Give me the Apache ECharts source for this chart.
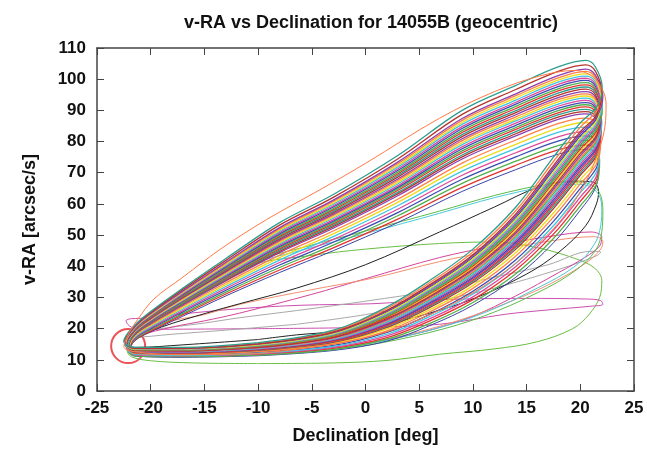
<!DOCTYPE html>
<html>
<head>
<meta charset="utf-8">
<script src="https://cdn.jsdelivr.net/npm/echarts@6/dist/echarts.min.js"></script>
<style>
  html, body { margin: 0; padding: 0; background: #fff; }
  #chart { width: 647px; height: 450px; }
</style>
</head>
<body>
<div id="chart"></div>
<script>
// tick labels
var decTicks = [-25, -20, -15, -10, -5, 0, 5, 10, 15, 20, 25];
var vraTicks = [0, 10, 20, 30, 40, 50, 60, 70, 80, 90, 100, 110];

// declination stations used by the main bundle of loops
var upDec  = [-21.5, -20, -17, -13, -8, -3, 3, 9, 14, 18, 20.5, 21.4];
var lowDec = [21.5, 20, 17.5, 14, 10, 6, 2, -3, -10, -17, -21.5];

// v-RA on the rising (upper) branch of each loop, read at upDec
var upperV = [
  [16.3,19.3,24.5,31.1,38.8,45.9,55.1,65.3,72.4,77.4,78.9,77.9],
  [16.5,19.7,24.9,31.7,39.6,46.8,56.2,66.6,73.7,78.8,80.4,79.3],
  [16.8,20.0,25.4,32.3,40.4,47.7,57.2,67.9,75.1,80.2,81.8,80.6],
  [17.0,20.3,25.8,32.9,41.2,48.6,58.3,69.2,76.4,81.6,83.2,82.0],
  [17.3,20.6,26.3,33.5,42.0,49.5,59.4,70.5,77.8,83.0,84.6,83.4],
  [17.5,21.0,26.7,34.1,42.8,50.4,60.5,71.8,79.1,84.4,86.1,84.8],
  [17.8,21.3,27.2,34.7,43.6,51.3,61.5,73.1,80.5,85.8,87.5,86.1],
  [18.0,21.6,27.6,35.3,44.4,52.2,62.6,74.4,81.8,87.2,88.9,87.5],
  [18.1,21.8,27.9,35.6,44.8,52.7,63.2,75.1,82.5,87.9,89.6,88.2],
  [18.3,21.9,28.1,35.9,45.2,53.1,63.7,75.7,83.2,88.6,90.3,88.9],
  [18.4,22.1,28.3,36.2,45.6,53.6,64.3,76.4,83.9,89.3,91.1,89.6],
  [18.5,22.3,28.5,36.5,46.0,54.0,64.8,77.0,84.5,90.0,91.8,90.3],
  [18.6,22.4,28.8,36.8,46.4,54.5,65.3,77.7,85.2,90.7,92.5,91.0],
  [18.8,22.6,29.0,37.1,46.8,54.9,65.8,78.3,85.9,91.4,93.2,91.6],
  [18.9,22.8,29.2,37.4,47.2,55.4,66.4,79.0,86.6,92.1,93.9,92.3],
  [19.0,22.9,29.4,37.7,47.6,55.8,66.9,79.6,87.2,92.8,94.6,93.0],
  [19.1,23.1,29.7,38.0,48.0,56.3,67.5,80.3,87.9,93.5,95.3,93.7],
  [19.3,23.2,29.9,38.3,48.4,56.7,68.0,80.9,88.6,94.2,96.0,94.4],
  [19.4,23.4,30.1,38.6,48.8,57.2,68.6,81.6,89.3,94.9,96.8,95.1],
  [19.5,23.6,30.3,38.9,49.2,57.6,69.1,82.2,89.9,95.6,97.5,95.8],
  [19.6,23.7,30.6,39.2,49.6,58.1,69.6,82.9,90.6,96.3,98.2,96.5],
  [19.8,23.9,30.8,39.5,50.0,58.5,70.1,83.5,91.3,97.0,98.9,97.1],
  [19.9,24.1,31.0,39.8,50.4,59.0,70.7,84.2,92.0,97.7,99.6,97.8],
  [20.0,24.2,31.2,40.1,50.8,59.4,71.2,84.8,92.6,98.4,100.3,98.5],
  [20.1,24.4,31.5,40.4,51.2,59.9,71.8,85.5,93.3,99.1,101.0,99.2],
  [20.3,24.5,31.7,40.7,51.6,60.3,72.3,86.1,94.0,99.8,101.7,99.9],
  [20.4,24.7,31.9,41.0,52.0,60.8,72.9,86.8,94.7,100.5,102.5,100.6],
  [20.5,24.9,32.1,41.3,52.4,61.2,73.4,87.4,95.3,101.2,103.2,101.3],
  [20.8,25.2,32.6,41.9,53.2,62.1,74.4,88.7,96.7,102.6,104.6,102.6],
  [21.0,25.5,33.0,42.5,54.0,63.0,75.5,90.0,98.0,104.0,106.0,104.0]
];

// v-RA on the returning (lower) branch, read at lowDec
var lowerV = [
  [66.3,59.4,48.9,37.6,28.4,21.7,16.6,13.3,11.5,11.0,11.3],
  [67.6,60.8,50.3,38.8,29.3,22.5,17.1,13.7,11.7,11.1,11.5],
  [68.9,62.2,51.6,39.9,30.2,23.2,17.7,14.0,11.9,11.3,11.6],
  [70.2,63.6,53.0,41.0,31.1,23.9,18.2,14.3,12.1,11.4,11.8],
  [71.5,65.0,54.4,42.1,32.0,24.6,18.8,14.6,12.4,11.6,11.9],
  [72.8,66.4,55.8,43.3,32.9,25.4,19.3,15.0,12.6,11.8,12.1],
  [74.1,67.8,57.1,44.4,33.8,26.1,19.9,15.3,12.8,11.9,12.2],
  [75.4,69.2,58.5,45.5,34.7,26.8,20.4,15.6,13.0,12.1,12.3],
  [76.1,69.9,59.2,46.1,35.2,27.2,20.7,15.8,13.1,12.2,12.4],
  [76.7,70.6,59.9,46.6,35.6,27.5,21.0,15.9,13.2,12.2,12.5],
  [77.4,71.3,60.6,47.2,36.1,27.9,21.3,16.1,13.3,12.3,12.6],
  [78.0,72.0,61.3,47.8,36.5,28.3,21.5,16.3,13.4,12.4,12.6],
  [78.7,72.7,62.0,48.4,37.0,28.7,21.8,16.5,13.5,12.5,12.7],
  [79.3,73.4,62.6,48.9,37.4,29.0,22.1,16.6,13.6,12.6,12.7],
  [80.0,74.1,63.3,49.5,37.9,29.4,22.4,16.8,13.7,12.7,12.8],
  [80.6,74.8,64.0,50.0,38.3,29.7,22.6,16.9,13.8,12.7,12.9],
  [81.3,75.5,64.7,50.6,38.8,30.1,22.9,17.1,13.9,12.8,13.0],
  [81.9,76.2,65.4,51.1,39.2,30.4,23.2,17.2,14.0,12.9,13.0],
  [82.6,76.9,66.1,51.7,39.7,30.8,23.5,17.4,14.1,13.0,13.1],
  [83.2,77.6,66.8,52.3,40.1,31.2,23.7,17.6,14.2,13.0,13.2],
  [83.9,78.3,67.5,52.9,40.6,31.6,24.0,17.8,14.4,13.1,13.3],
  [84.5,79.0,68.1,53.4,41.0,31.9,24.3,17.9,14.5,13.2,13.3],
  [85.2,79.7,68.8,54.0,41.5,32.3,24.6,18.1,14.6,13.3,13.4],
  [85.8,80.4,69.5,54.5,41.9,32.6,24.8,18.2,14.7,13.4,13.4],
  [86.5,81.1,70.2,55.1,42.4,33.0,25.1,18.4,14.8,13.5,13.5],
  [87.1,81.8,70.9,55.6,42.8,33.3,25.4,18.5,14.9,13.5,13.6],
  [87.8,82.5,71.6,56.2,43.3,33.7,25.7,18.7,15.0,13.6,13.7],
  [88.4,83.2,72.3,56.8,43.7,34.1,25.9,18.9,15.1,13.7,13.7],
  [89.7,84.6,73.6,57.9,44.6,34.8,26.5,19.2,15.3,13.8,13.9],
  [91.0,86.0,75.0,59.0,45.5,35.5,27.0,19.5,15.5,14.0,14.0]
];

// which lower branch belongs to which upper branch
var lowerRow = [1,0,4,2,3,6,5,10,7,8,9,14,11,12,13,18,15,16,17,21,19,20,25,22,23,24,28,26,27,29];

// right-hand turning point and left-hand turning point of each loop
var tipDec  = [21.7,21.8,21.65,21.75,21.8,21.7,21.9,21.75,21.85,21.8,21.95,21.8,21.9,21.85,22.0,21.8,21.9,21.95,21.85,22.0,21.9,22.05,21.95,21.9,22.05,21.95,22.0,22.1,22.0,22.05];
var tipV    = [72.3,73.6,74.9,76.2,77.5,78.8,80.1,81.4,82.1,82.7,83.4,84.0,84.7,85.3,86.0,86.6,87.3,87.9,88.6,89.2,89.9,90.5,91.2,91.8,92.5,93.1,93.8,94.4,95.7,97.0];
var leftDec = [-22.0,-22.1,-21.95,-22.05,-22.15,-22.0,-22.1,-22.2,-22.05,-22.15,-22.25,-22.1,-22.2,-22.3,-22.15,-22.25,-22.35,-22.2,-22.3,-22.4,-22.25,-22.35,-22.3,-22.4,-22.45,-22.3,-22.4,-22.35,-22.45,-22.5];
var leftV   = [12.7,12.9,13.0,13.2,13.4,13.6,13.7,13.9,14.0,14.1,14.2,14.3,14.4,14.4,14.5,14.6,14.7,14.8,14.9,15.0,15.0,15.1,15.2,15.3,15.4,15.5,15.6,15.7,15.8,16.0];

// loops that stand apart from the bundle, [declination, v-RA]
var orangeLoop = [[-10,12],[-17,11.6],[-21.5,12.6],[-22.5,14.2],[-22.1,18],[-21.2,23],[-19.7,29.5],[-17,36.5],[-13.5,45.5],[-9.2,55],[-4,65],[0,73],[6.9,87.5],[12,96],[16.2,101],[19.5,102.8],[21.4,100],[22.4,92],[22.3,85],[21.8,78],[20.5,67],[18,54],[14,41],[10,31.5],[6,24.5],[2,19],[-3,15],[-10,12]];
var blueLoop = [[-10,11.3],[-17,10.8],[-21.5,11.2],[-22.0,12.5],[-21.5,16],[-20,19],[-17,24],[-13,30.5],[-8,38],[-3,45],[3,54],[9,64],[14,71],[18,76],[20.5,77.5],[21.4,76.5],[21.7,71],[21.4,65],[20,58],[17.5,47.5],[14,36.5],[10,27.5],[6,21],[2,16],[-3,13],[-10,11.3]];
var cyanLoop = [[-10,11.8],[-18,11],[-21.5,12],[-22.2,14.5],[-21.3,19],[-19,25],[-15,33],[-11.7,39.5],[-5,46],[0,50.5],[6.9,57],[12,62],[17.2,65.8],[20,66.3],[21.5,64],[22.0,59],[21.9,53],[21.3,47],[19.5,40],[16,33],[11,25],[6,19.5],[0,15],[-5,13],[-10,11.8]];
var greenLoop = [[-10,12],[-18,11.2],[-21.5,12.2],[-22.2,14.8],[-21.3,19.5],[-19,25.5],[-15,33.5],[-11.7,40.2],[-5,46.8],[0,51.3],[6.9,57.7],[12,62.7],[17.2,66.5],[20,67],[21.6,64.5],[22.1,58],[22.0,51],[21.4,45],[19.5,38.5],[16,31.5],[11,24],[6,18.8],[0,14.6],[-5,12.8],[-10,12]];
var blackLoop = [[-10,16.5],[-17,14.8],[-21.3,14],[-22.1,14.5],[-21.2,17],[-19,20.5],[-14.8,25],[-11.7,28],[-6.4,33],[0,40.5],[6.9,51],[12,59],[16.2,65.5],[19.5,67.3],[21.2,67],[21.7,64],[21.5,60],[20.5,53],[18,44.5],[15,37.5],[10,29.5],[6,25],[2,21.5],[-3,19],[-6.4,18],[-10,16.5]];
var wideGreenLoop = [[-10,8.8],[-16,9],[-20,9.7],[-21.8,11],[-22.2,13],[-21.3,17],[-19,23],[-15,33],[-10.5,40.5],[-5,43.5],[0,45.5],[6.9,47.3],[12,47.8],[16.2,45.8],[19.5,42.5],[21.3,39.5],[22.0,35.5],[21.8,30],[20.8,24.5],[19.3,20],[16,15.8],[12,13.5],[6.9,11.8],[2,9.8],[-3,9],[-10,8.8]];
var magentaLoop = [[-10,12.3],[-17,11.5],[-21.5,12.5],[-22.1,15],[-21.2,17.5],[-18,20.5],[-15,22.5],[-11.7,25],[-5,31],[0,36],[6.9,42.8],[12,46.5],[17,49.5],[21,51],[22.0,49.5],[21.8,46.5],[20.5,43],[18,38],[14,30.5],[10,24],[6,19.5],[2,16.5],[-3,14],[-10,12.3]];
var salmonLoop = [[-10,12.2],[-17,11.3],[-21.5,12.3],[-22.2,15],[-21,19],[-18,22.5],[-15,24.5],[-11.7,27.8],[-5,32.5],[0.7,36.2],[6.9,41.5],[12,45],[17,48],[21.3,49.5],[22.1,48],[21.9,45.5],[20.5,41],[17,34],[13,28],[9,23],[5,19],[1,16],[-4,13.5],[-10,12.2]];
var flatPinkLoop = [[-10,20],[-20,19.8],[-21.8,20.5],[-22.3,22.5],[-21.8,23.2],[-21,23.3],[-18,24.4],[-11.7,26.4],[-6,27.5],[0.7,28],[7,29.3],[15,29.7],[20.5,29.5],[21.9,29],[22.1,27.8],[21,27.2],[17,26],[13,24.6],[6.9,21.4],[0,20.4],[-10,20]];
var grayLoop = [[-6.4,21.4],[-12,19.8],[-18,18.2],[-21.9,17.2],[-22.1,17.6],[-20,19.5],[-15,21.8],[-11.7,23.5],[-6.4,25.8],[0,28.8],[6.9,32.5],[12,36.5],[17,40.5],[21,44.8],[21.9,44.6],[21.6,43.5],[18,39],[12,33],[6.9,29],[0,24.5],[-6.4,21.4]];

// highlighted point
var markDec = [-22.1];
var markV = [14.4];

var palette = ['#e5322f', '#52b04a', '#3b4cb2', '#e0489c', '#3fc4e2', '#eedb1c', '#ff7f45', '#8c40b0', '#b5342f', '#2e9e8f'];

function mainLoop(i) {
	var u = upperV[i], l = lowerV[lowerRow[i]];
	var pts = [];
	// start in the flat part of the lower branch so the join is invisible
	for (var j = 8; j < lowDec.length; j++) pts.push([lowDec[j], l[j]]);
	pts.push([leftDec[i], leftV[i]]);
	for (var j = 0; j < upDec.length; j++) pts.push([upDec[j], u[j]]);
	pts.push([tipDec[i], tipV[i]]);
	for (var j = 0; j <= 8; j++) pts.push([lowDec[j], l[j]]);
	return pts;
}

function lineSeries(pts, color, w) {
	return {
		type: 'line',
		data: pts,
		smooth: 0.35,
		symbol: 'none',
		silent: true,
		lineStyle: { color: color, width: w || 1 }
	};
}

var series = [];
series.push(lineSeries(wideGreenLoop, '#6abf45'));
series.push(lineSeries(flatPinkLoop, '#cc4fae'));
series.push(lineSeries(grayLoop, '#a8a8a8'));
series.push(lineSeries(magentaLoop, '#d6459b'));
series.push(lineSeries(salmonLoop, '#f3906f'));
series.push(lineSeries(blackLoop, '#222222'));
series.push(lineSeries(cyanLoop, '#4cc9d9'));
series.push(lineSeries(greenLoop, '#5dbb4a'));
series.push(lineSeries(blueLoop, '#3b44a8'));
for (var i = 0; i < upperV.length; i++) {
	series.push(lineSeries(mainLoop(i), palette[i % palette.length], 1.3));
}
series.push(lineSeries(orangeLoop, '#ff7a45'));
series.push({
	type: 'scatter',
	data: [[markDec[0], markV[0]]],
	symbol: 'circle',
	symbolSize: 34,
	silent: true,
	itemStyle: { color: 'rgba(0,0,0,0)', borderColor: '#e8262b', borderWidth: 2 }
});

var axisColor = '#444';
var labelFont = { fontFamily: 'Liberation Sans', fontWeight: 'bold', fontSize: 17, color: '#111' };

var chart = echarts.init(document.getElementById('chart'), null, { renderer: 'canvas' });
chart.setOption({
	animation: false,
	backgroundColor: '#fff',
	title: {
		text: 'v-RA vs Declination for 14055B (geocentric)',
		left: 366,
		top: 9,
		textAlign: 'center',
		textStyle: { fontFamily: 'Liberation Sans', fontWeight: 'bold', fontSize: 18, color: '#111' }
	},
	grid: { left: 97, right: 13, top: 48, bottom: 56 },
	xAxis: [{
		type: 'value', min: decTicks[0], max: decTicks[decTicks.length - 1], interval: 5,
		name: 'Declination [deg]', nameLocation: 'middle', nameGap: 36,
		nameTextStyle: { fontFamily: 'Liberation Sans', fontWeight: 'bold', fontSize: 18, color: '#111' },
		axisLine: { onZero: false, lineStyle: { color: axisColor, width: 1.5 } },
		axisTick: { inside: true, length: 7, lineStyle: { color: axisColor } },
		axisLabel: Object.assign({ margin: 9 }, labelFont),
		splitLine: { show: false }
	}, {
		type: 'value', position: 'top', min: decTicks[0], max: decTicks[decTicks.length - 1], interval: 5,
		axisLine: { onZero: false, lineStyle: { color: axisColor, width: 1.5 } },
		axisTick: { inside: true, length: 7, lineStyle: { color: axisColor } },
		axisLabel: { show: false },
		splitLine: { show: false }
	}],
	yAxis: [{
		type: 'value', min: vraTicks[0], max: vraTicks[vraTicks.length - 1], interval: 10,
		name: 'v-RA [arcsec/s]', nameLocation: 'middle', nameGap: 58,
		nameTextStyle: { fontFamily: 'Liberation Sans', fontWeight: 'bold', fontSize: 18, color: '#111' },
		axisLine: { show: true, onZero: false, lineStyle: { color: axisColor, width: 1.5 } },
		axisTick: { show: true, inside: true, length: 7, lineStyle: { color: axisColor } },
		axisLabel: Object.assign({ margin: 11 }, labelFont),
		splitLine: { show: false }
	}, {
		type: 'value', position: 'right', min: vraTicks[0], max: vraTicks[vraTicks.length - 1], interval: 10,
		axisLine: { show: true, onZero: false, lineStyle: { color: axisColor, width: 1.5 } },
		axisTick: { show: true, inside: true, length: 7, lineStyle: { color: axisColor } },
		axisLabel: { show: false },
		splitLine: { show: false }
	}],
	series: series
});
</script>
</body>
</html>
